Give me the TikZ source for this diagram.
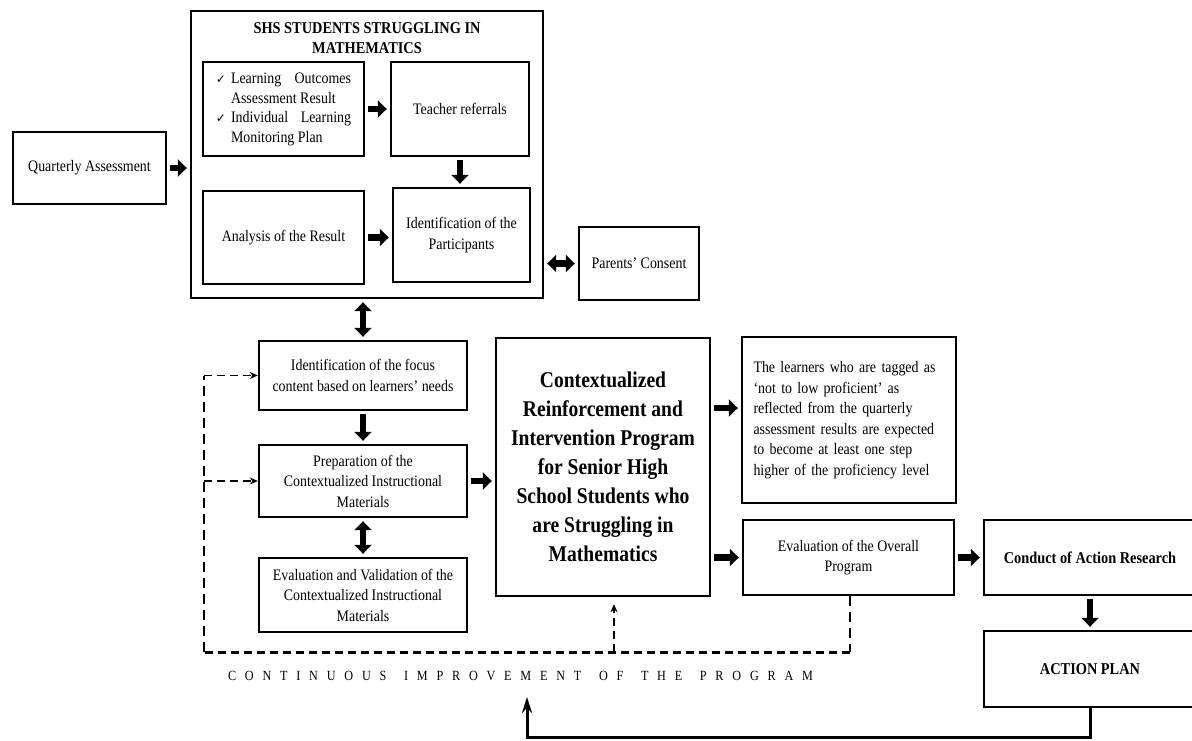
\documentclass[tikz,border=0pt]{standalone}
\usepackage{fontspec}
\setmainfont{Liberation Serif}[FakeStretch=0.87]
\newfontfamily\dejavu{DejaVu Sans}
\usetikzlibrary{arrows.meta}
\newcommand{\ck}{{\dejavu\fontsize{12}{14}\selectfont ✓}}
\tikzset{
  box/.style={draw, line width=2.4pt, rectangle, inner sep=0pt, align=center,
    font=\fontsize{16}{20.5}\selectfont},
  tipA/.tip={Triangle[length=9pt,width=17pt]},
  barrow/.style={line width=6.5pt, -tipA, shorten <=3pt, shorten >=3pt},
  dbarrow/.style={line width=6.5pt, tipA-tipA, shorten <=3pt, shorten >=3pt},
  dline/.style={line width=2pt, dash pattern=on 10pt off 6pt},
  dlinethick/.style={line width=3pt, dash pattern=on 8pt off 5pt},
  darrow/.style={line width=1.6pt, dash pattern=on 8pt off 5pt, -{Stealth[length=8pt,width=7pt]}},
  bigfont/.style={font=\fontsize{22.5}{29}\selectfont\bfseries},
  hdfont/.style={font=\fontsize{16.5}{20}\selectfont\bfseries}
}
\begin{document}
\begin{tikzpicture}[x=1pt,y=-1pt]
\useasboundingbox (0,0) rectangle (1192,740);

% top cluster
\node[box, minimum width=153pt, minimum height=72pt] (q) at (89.5,168) {Quarterly Assessment};
\node[box, minimum width=352pt, minimum height=287pt] (outer) at (367,154.5) {};
\node[hdfont, align=center, inner sep=0pt] (title) at (367,38) {SHS STUDENTS STRUGGLING IN\\MATHEMATICS};
\node[box, minimum width=161pt, minimum height=94pt] (chk) at (283.5,109)
  {\begin{tabular}{@{}l@{\hspace{5pt}}l@{}}
   \ck & \makebox[120pt][s]{Learning Outcomes}\\[-1pt]
       & Assessment Result\\[-1pt]
   \ck & \makebox[120pt][s]{Individual Learning}\\[-1pt]
       & Monitoring Plan
   \end{tabular}};
\node[box, minimum width=138pt, minimum height=94pt] (teach) at (460,109) {Teacher referrals};
\node[box, minimum width=161pt, minimum height=93pt] (anal) at (283.5,237.5) {Analysis of the Result};
\node[box, minimum width=137pt, minimum height=94pt] (ident) at (461.5,235) {Identification of the\\Participants};
\node[box, minimum width=120pt, minimum height=73pt] (parents) at (639,263.5) {Parents’ Consent};

% left column
\node[box, minimum width=208pt, minimum height=69pt] (focus) at (363,375.5) {Identification of the focus\\content based on learners’ needs};
\node[box, minimum width=208pt, minimum height=72pt] (prep) at (363,481) {Preparation of the\\Contextualized Instructional\\Materials};
\node[box, minimum width=208pt, minimum height=74pt] (evalv) at (363,595) {Evaluation and Validation of the\\Contextualized Instructional\\Materials};

% central and right
\node[box, bigfont, minimum width=214pt, minimum height=258pt] (central) at (603,467)
  {Contextualized\\Reinforcement and\\Intervention Program\\for Senior High\\School Students who\\are Struggling in\\Mathematics};
\node[box, minimum width=214pt, minimum height=166pt, text width=191pt, align=left] (learn) at (849,420)
  {\makebox[191pt][s]{The learners who are tagged as}\\
   \makebox[191pt][s]{‘not to low proficient’ as}\\
   \makebox[191pt][s]{reflected from the quarterly}\\
   \makebox[191pt][s]{assessment results are expected}\\
   \makebox[191pt][s]{to become at least one step}\\
   higher of the proficiency level};
\node[box, minimum width=211pt, minimum height=75pt] (evalo) at (848.5,557.5) {Evaluation of the Overall\\Program};
\node[box, hdfont, minimum width=212pt, minimum height=75pt] (conduct) at (1090,557.5) {Conduct of Action Research};
\node[box, hdfont, minimum width=212pt, minimum height=76pt] (action) at (1090,669) {ACTION PLAN};

% caption
\node[inner sep=0pt, font=\fontsize{14}{16}\selectfont] (cap) at (520.5,676)
  {\makebox[585pt][s]{C\hfill O\hfill N\hfill T\hfill I\hfill N\hfill U\hfill O\hfill U\hfill S\hfill\hfill
   I\hfill M\hfill P\hfill R\hfill O\hfill V\hfill E\hfill M\hfill E\hfill N\hfill T\hfill\hfill
   O\hfill F\hfill\hfill T\hfill H\hfill E\hfill\hfill
   P\hfill R\hfill O\hfill G\hfill R\hfill A\hfill M}};

% block arrows
\draw[barrow] (q.east) -- (q.east -| outer.west);
\draw[barrow] (chk.east) -- (teach.west);
\draw[barrow] (teach.south) -- (teach.south |- ident.north);
\draw[barrow] (anal.east) -- (anal.east -| ident.west);
\draw[dbarrow] (parents.west -| outer.east) -- (parents.west);
\draw[dbarrow] (focus.north) -- (focus.north |- outer.south);
\draw[barrow] (focus.south) -- (prep.north);
\draw[dbarrow] (prep.south) -- (evalv.north);
\draw[barrow] (prep.east) -- (prep.east -| central.west);
\coordinate (lw) at ([yshift=12pt]learn.west);
\draw[barrow] (lw -| central.east) -- (lw);
\draw[barrow] (evalo.west -| central.east) -- (evalo.west);
\draw[barrow] (evalo.east) -- (conduct.west);
\draw[barrow] (conduct.south) -- (action.north);

% feedback loop
\coordinate (fbcorner) at (527,737);
\coordinate (fbend) at (527,697);
\draw[line width=3pt, -{Stealth[length=16pt,width=10pt]}] (action.south) |- (fbcorner) -- (fbend);

% dashed improvement loop
\coordinate (dl) at (204,652);
\coordinate (dtop) at (204,375.5);
\coordinate (dmid) at (204,481);
\coordinate (dup) at (614,652);
\coordinate (dr) at ([xshift=1.5pt]evalo.south |- dl);
\draw[dline] ([xshift=1.5pt]evalo.south) -- (dr);
\draw[dlinethick] (dr) -- (dl);
\draw[dline] (dl) -- (dtop);
\draw[darrow] (dtop) -- (focus.west);
\draw[darrow] (dmid) -- (prep.west);
\draw[darrow, shorten >=7pt] (dup) -- (dup |- central.south);
\end{tikzpicture}
\end{document}
